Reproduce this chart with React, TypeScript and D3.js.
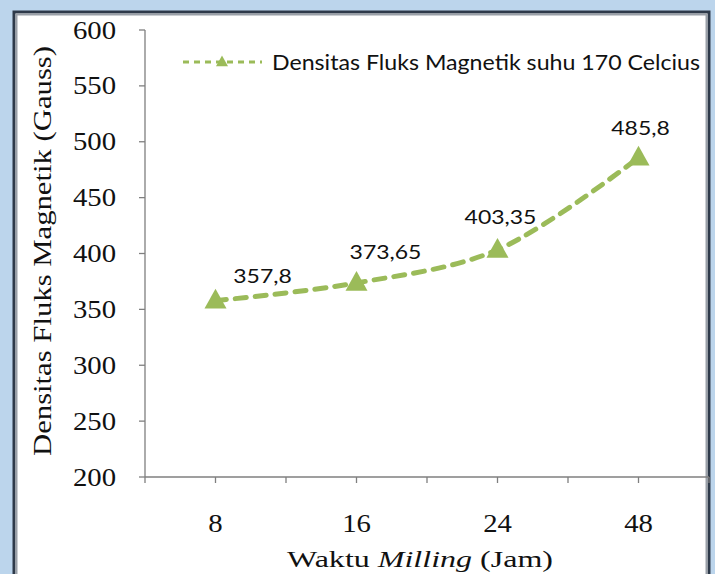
import React from "react";
import * as d3 from "d3";

const categories = ["8", "16", "24", "48"];
const values = [357.8, 373.65, 403.35, 485.8];
const valueLabels = ["357,8", "373,65", "403,35", "485,8"];
const yTicks = [200, 250, 300, 350, 400, 450, 500, 550, 600];
const seriesName = "Densitas Fluks Magnetik suhu 170 Celcius";

const W = 715;
const H = 574;
const GREEN = "#9BBB59";
const labelDx = [47, 29, 3, 2];
const labelDy = [-18, -24, -26, -23];

function tri(cx: number, cy: number, s: number) {
  const h = s * 0.9;
  return `M${cx},${cy - h * 0.6} L${cx + s / 2},${cy + h * 0.4} L${cx - s / 2},${cy + h * 0.4} Z`;
}

export default function App() {
  const x = d3.scaleBand<string>().domain(categories).range([145, 709]).padding(0);
  const y = d3.scaleLinear().domain([200, 600]).range([477, 30]);
  const cx = (c: string) => (x(c) as number) + x.bandwidth() / 2;

  const pts = categories.map((c, i) => [cx(c), y(values[i])] as [number, number]);
  const line = d3.line().curve(d3.curveCatmullRom.alpha(0.5));
  const path = line(pts) as string;

  const xTickPos: number[] = [];
  const step = x.step() / 2;
  for (let i = 0; i <= categories.length * 2; i++) xTickPos.push(145 + i * step);

  return (
    <svg width={W} height={H} style={{ position: "absolute", left: 0, top: 0, display: "block" }}>
      <rect x={0} y={0} width={W} height={H} fill="#BCD5EC" />
      <rect x={14} y={12} width={695} height={600} fill="#ffffff" stroke="#2E3A4A" strokeWidth={3} />
      <rect x={16.5} y={14.5} width={690} height={600} fill="none" stroke="#9AA0A8" strokeWidth={2} />

      {/* y axis */}
      <line x1={145} x2={145} y1={y(600)} y2={y(200)} stroke="#7F7F7F" strokeWidth={1.3} />
      {yTicks.map((t) => (
        <g key={t}>
          <line x1={139} x2={145} y1={y(t)} y2={y(t)} stroke="#7F7F7F" strokeWidth={1.3} />
          <text
            transform={`translate(116,${y(t) + 8.5}) scale(1.15,1)`}
            textAnchor="end"
            fontFamily="'Liberation Serif', serif"
            fontSize={25}
            fill="#111"
          >
            {t}
          </text>
        </g>
      ))}

      {/* x axis */}
      <line x1={145} x2={709} y1={y(200)} y2={y(200)} stroke="#7F7F7F" strokeWidth={1.3} />
      {xTickPos.map((p, i) => (
        <line key={i} x1={p} x2={p} y1={y(200)} y2={y(200) + 6} stroke="#7F7F7F" strokeWidth={1.3} />
      ))}
      {categories.map((c) => (
        <text
          key={c}
          transform={`translate(${cx(c)},${532}) scale(1.15,1)`}
          textAnchor="middle"
          fontFamily="'Liberation Serif', serif"
          fontSize={25}
          fill="#111"
        >
          {c}
        </text>
      ))}

      {/* axis titles */}
      <text
        transform={`translate(51,${251}) rotate(-90)`}
        textAnchor="middle"
        fontFamily="'Liberation Serif', serif"
        fontSize={25}
        fill="#111"
        textLength={410}
        lengthAdjust="spacingAndGlyphs"
      >
        Densitas Fluks Magnetik (Gauss)
      </text>
      <text
        x={420}
        y={567}
        textAnchor="middle"
        fontFamily="'Liberation Serif', serif"
        fontSize={24}
        fill="#111"
        textLength={266}
        lengthAdjust="spacingAndGlyphs"
      >
        Waktu <tspan fontStyle="italic">Milling</tspan> (Jam)
      </text>

      {/* series */}
      <path d={path} fill="none" stroke={GREEN} strokeWidth={5} strokeDasharray="11 9" strokeLinecap="round" />
      {pts.map((p, i) => (
        <path key={i} d={tri(p[0], p[1], 22)} fill={GREEN} />
      ))}
      {pts.map((p, i) => (
        <text
          key={"l" + i}
          transform={`translate(${p[0] + labelDx[i]},${p[1] + labelDy[i]}) scale(1.15,1)`}
          textAnchor="middle"
          fontFamily="Lato, 'Open Sans', sans-serif"
          fontSize={20}
          fill="#111"
        >
          {valueLabels[i]}
        </text>
      ))}

      {/* legend */}
      <line x1={183} x2={262} y1={62} y2={62} stroke={GREEN} strokeWidth={3} strokeDasharray="6 5" />
      <path d={tri(222, 62, 12)} fill={GREEN} />
      <text
        x={272}
        y={70}
        fontFamily="Lato, 'Open Sans', sans-serif"
        fontSize={21}
        fill="#111"
        textLength={428}
        lengthAdjust="spacingAndGlyphs"
      >
        {seriesName}
      </text>
    </svg>
  );
}
